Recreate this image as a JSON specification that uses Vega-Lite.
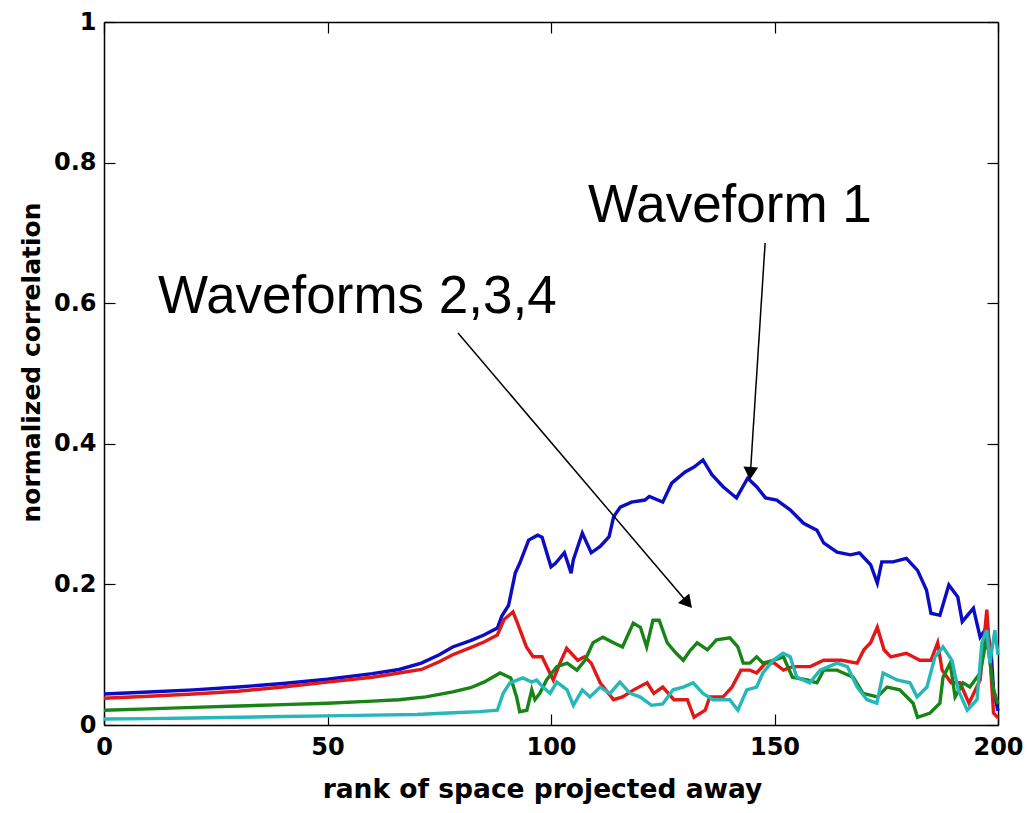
{
  "$schema": "https://vega.github.io/schema/vega-lite/v6.json",
  "width": 894,
  "height": 703,
  "autosize": "none",
  "padding": {"left": 104, "top": 22, "right": 31, "bottom": 88},
  "background": "white",
  "config": {
    "view": {"stroke": null},
    "axis": {
      "grid": false,
      "domainColor": "black",
      "domainWidth": 1.5,
      "tickColor": "black",
      "tickWidth": 1.2,
      "tickSize": -11,
      "labelFont": "DejaVu Sans",
      "labelFontWeight": "bold",
      "labelFontSize": 24,
      "labelColor": "black",
      "labelFlush": false,
      "labelOverlap": false,
      "labelBound": false,
      "titleFont": "DejaVu Sans",
      "titleFontWeight": "bold",
      "titleFontSize": 25,
      "titleColor": "black"
    }
  },
  "datasets": {
    "series": [
      {"x": 0, "y": 0.044, "wave": "1"}, {"x": 10, "y": 0.047, "wave": "1"}, {"x": 20, "y": 0.05, "wave": "1"}, {"x": 30, "y": 0.054, "wave": "1"}, {"x": 40, "y": 0.059, "wave": "1"}, {"x": 50, "y": 0.065, "wave": "1"}, {"x": 60, "y": 0.073, "wave": "1"}, {"x": 66, "y": 0.079, "wave": "1"}, {"x": 71, "y": 0.088, "wave": "1"}, {"x": 75, "y": 0.1, "wave": "1"}, {"x": 78, "y": 0.111, "wave": "1"}, {"x": 82, "y": 0.12, "wave": "1"}, {"x": 85, "y": 0.128, "wave": "1"}, {"x": 88, "y": 0.138, "wave": "1"}, {"x": 89, "y": 0.155, "wave": "1"}, {"x": 90.5, "y": 0.17, "wave": "1"}, {"x": 92, "y": 0.216, "wave": "1"}, {"x": 93, "y": 0.23, "wave": "1"}, {"x": 95, "y": 0.263, "wave": "1"}, {"x": 97, "y": 0.27, "wave": "1"}, {"x": 98, "y": 0.267, "wave": "1"}, {"x": 100, "y": 0.225, "wave": "1"}, {"x": 101, "y": 0.23, "wave": "1"}, {"x": 103, "y": 0.245, "wave": "1"}, {"x": 104.5, "y": 0.216, "wave": "1"}, {"x": 105, "y": 0.235, "wave": "1"}, {"x": 107, "y": 0.273, "wave": "1"}, {"x": 109, "y": 0.245, "wave": "1"}, {"x": 111, "y": 0.254, "wave": "1"}, {"x": 113, "y": 0.268, "wave": "1"}, {"x": 114, "y": 0.296, "wave": "1"}, {"x": 115.5, "y": 0.31, "wave": "1"}, {"x": 118, "y": 0.317, "wave": "1"}, {"x": 121, "y": 0.32, "wave": "1"}, {"x": 122, "y": 0.325, "wave": "1"}, {"x": 125, "y": 0.317, "wave": "1"}, {"x": 127, "y": 0.344, "wave": "1"}, {"x": 130, "y": 0.36, "wave": "1"}, {"x": 132, "y": 0.367, "wave": "1"}, {"x": 134, "y": 0.377, "wave": "1"}, {"x": 136, "y": 0.356, "wave": "1"}, {"x": 138.5, "y": 0.339, "wave": "1"}, {"x": 141.5, "y": 0.323, "wave": "1"}, {"x": 144, "y": 0.351, "wave": "1"}, {"x": 146, "y": 0.339, "wave": "1"}, {"x": 148, "y": 0.323, "wave": "1"}, {"x": 150.5, "y": 0.32, "wave": "1"}, {"x": 153.5, "y": 0.306, "wave": "1"}, {"x": 156.5, "y": 0.287, "wave": "1"}, {"x": 159.5, "y": 0.277, "wave": "1"}, {"x": 161, "y": 0.259, "wave": "1"}, {"x": 164, "y": 0.246, "wave": "1"}, {"x": 167, "y": 0.242, "wave": "1"}, {"x": 169, "y": 0.245, "wave": "1"}, {"x": 171.5, "y": 0.228, "wave": "1"}, {"x": 173, "y": 0.202, "wave": "1"}, {"x": 174, "y": 0.232, "wave": "1"}, {"x": 176.5, "y": 0.232, "wave": "1"}, {"x": 179.5, "y": 0.237, "wave": "1"}, {"x": 182, "y": 0.22, "wave": "1"}, {"x": 184, "y": 0.192, "wave": "1"}, {"x": 185, "y": 0.159, "wave": "1"}, {"x": 187, "y": 0.156, "wave": "1"}, {"x": 189, "y": 0.199, "wave": "1"}, {"x": 191, "y": 0.182, "wave": "1"}, {"x": 192, "y": 0.147, "wave": "1"}, {"x": 194.5, "y": 0.166, "wave": "1"}, {"x": 196, "y": 0.125, "wave": "1"}, {"x": 197.5, "y": 0.139, "wave": "1"}, {"x": 198.5, "y": 0.1, "wave": "1"}, {"x": 199, "y": 0.05, "wave": "1"}, {"x": 200, "y": 0.02, "wave": "1"},

      {"x": 0, "y": 0.038, "wave": "2"}, {"x": 10, "y": 0.041, "wave": "2"}, {"x": 20, "y": 0.044, "wave": "2"}, {"x": 30, "y": 0.048, "wave": "2"}, {"x": 40, "y": 0.054, "wave": "2"}, {"x": 50, "y": 0.061, "wave": "2"}, {"x": 60, "y": 0.068, "wave": "2"}, {"x": 66, "y": 0.074, "wave": "2"}, {"x": 71, "y": 0.079, "wave": "2"}, {"x": 75, "y": 0.09, "wave": "2"}, {"x": 78, "y": 0.1, "wave": "2"}, {"x": 82, "y": 0.11, "wave": "2"}, {"x": 85, "y": 0.118, "wave": "2"}, {"x": 88, "y": 0.128, "wave": "2"}, {"x": 89.5, "y": 0.15, "wave": "2"}, {"x": 91.5, "y": 0.161, "wave": "2"}, {"x": 92.5, "y": 0.145, "wave": "2"}, {"x": 94.5, "y": 0.111, "wave": "2"}, {"x": 96, "y": 0.097, "wave": "2"}, {"x": 98, "y": 0.097, "wave": "2"}, {"x": 100.5, "y": 0.064, "wave": "2"}, {"x": 102, "y": 0.088, "wave": "2"}, {"x": 103.5, "y": 0.109, "wave": "2"}, {"x": 106, "y": 0.092, "wave": "2"}, {"x": 107.5, "y": 0.097, "wave": "2"}, {"x": 109, "y": 0.088, "wave": "2"}, {"x": 111, "y": 0.06, "wave": "2"}, {"x": 114, "y": 0.036, "wave": "2"}, {"x": 116, "y": 0.04, "wave": "2"}, {"x": 118.5, "y": 0.05, "wave": "2"}, {"x": 121.5, "y": 0.06, "wave": "2"}, {"x": 123, "y": 0.045, "wave": "2"}, {"x": 125, "y": 0.054, "wave": "2"}, {"x": 127.5, "y": 0.036, "wave": "2"}, {"x": 130.5, "y": 0.036, "wave": "2"}, {"x": 132, "y": 0.011, "wave": "2"}, {"x": 134.5, "y": 0.021, "wave": "2"}, {"x": 135.5, "y": 0.04, "wave": "2"}, {"x": 138.5, "y": 0.04, "wave": "2"}, {"x": 140.5, "y": 0.054, "wave": "2"}, {"x": 142.5, "y": 0.078, "wave": "2"}, {"x": 144.5, "y": 0.078, "wave": "2"}, {"x": 146, "y": 0.074, "wave": "2"}, {"x": 148, "y": 0.088, "wave": "2"}, {"x": 150, "y": 0.088, "wave": "2"}, {"x": 152, "y": 0.078, "wave": "2"}, {"x": 154, "y": 0.083, "wave": "2"}, {"x": 158, "y": 0.083, "wave": "2"}, {"x": 161, "y": 0.092, "wave": "2"}, {"x": 165, "y": 0.092, "wave": "2"}, {"x": 168.5, "y": 0.088, "wave": "2"}, {"x": 170, "y": 0.107, "wave": "2"}, {"x": 171.5, "y": 0.117, "wave": "2"}, {"x": 173, "y": 0.139, "wave": "2"}, {"x": 174.5, "y": 0.107, "wave": "2"}, {"x": 176, "y": 0.097, "wave": "2"}, {"x": 179.5, "y": 0.102, "wave": "2"}, {"x": 182.5, "y": 0.092, "wave": "2"}, {"x": 185, "y": 0.092, "wave": "2"}, {"x": 186.5, "y": 0.117, "wave": "2"}, {"x": 187.5, "y": 0.078, "wave": "2"}, {"x": 189.5, "y": 0.06, "wave": "2"}, {"x": 191.5, "y": 0.06, "wave": "2"}, {"x": 193.5, "y": 0.031, "wave": "2"}, {"x": 196, "y": 0.064, "wave": "2"}, {"x": 197.5, "y": 0.164, "wave": "2"}, {"x": 198.3, "y": 0.088, "wave": "2"}, {"x": 199, "y": 0.017, "wave": "2"}, {"x": 200, "y": 0.01, "wave": "2"},

      {"x": 0, "y": 0.021, "wave": "3"}, {"x": 10, "y": 0.023, "wave": "3"}, {"x": 20, "y": 0.025, "wave": "3"}, {"x": 30, "y": 0.027, "wave": "3"}, {"x": 40, "y": 0.029, "wave": "3"}, {"x": 50, "y": 0.031, "wave": "3"}, {"x": 60, "y": 0.034, "wave": "3"}, {"x": 66, "y": 0.036, "wave": "3"}, {"x": 72, "y": 0.04, "wave": "3"}, {"x": 78, "y": 0.047, "wave": "3"}, {"x": 82, "y": 0.053, "wave": "3"}, {"x": 85, "y": 0.061, "wave": "3"}, {"x": 88.6, "y": 0.074, "wave": "3"}, {"x": 91, "y": 0.067, "wave": "3"}, {"x": 92.3, "y": 0.04, "wave": "3"}, {"x": 93, "y": 0.019, "wave": "3"}, {"x": 94.6, "y": 0.021, "wave": "3"}, {"x": 95.7, "y": 0.05, "wave": "3"}, {"x": 96.4, "y": 0.036, "wave": "3"}, {"x": 97.5, "y": 0.045, "wave": "3"}, {"x": 99, "y": 0.064, "wave": "3"}, {"x": 101.3, "y": 0.083, "wave": "3"}, {"x": 103.6, "y": 0.088, "wave": "3"}, {"x": 105.8, "y": 0.078, "wave": "3"}, {"x": 107.6, "y": 0.092, "wave": "3"}, {"x": 109.4, "y": 0.117, "wave": "3"}, {"x": 111.6, "y": 0.125, "wave": "3"}, {"x": 114, "y": 0.117, "wave": "3"}, {"x": 116, "y": 0.111, "wave": "3"}, {"x": 118.4, "y": 0.145, "wave": "3"}, {"x": 120, "y": 0.139, "wave": "3"}, {"x": 121.4, "y": 0.111, "wave": "3"}, {"x": 122.8, "y": 0.149, "wave": "3"}, {"x": 124.2, "y": 0.149, "wave": "3"}, {"x": 126, "y": 0.117, "wave": "3"}, {"x": 128, "y": 0.102, "wave": "3"}, {"x": 129.6, "y": 0.092, "wave": "3"}, {"x": 131, "y": 0.105, "wave": "3"}, {"x": 132.7, "y": 0.117, "wave": "3"}, {"x": 135, "y": 0.107, "wave": "3"}, {"x": 137, "y": 0.121, "wave": "3"}, {"x": 140, "y": 0.124, "wave": "3"}, {"x": 141.8, "y": 0.111, "wave": "3"}, {"x": 143, "y": 0.088, "wave": "3"}, {"x": 144.5, "y": 0.088, "wave": "3"}, {"x": 146, "y": 0.097, "wave": "3"}, {"x": 147.4, "y": 0.088, "wave": "3"}, {"x": 149.7, "y": 0.092, "wave": "3"}, {"x": 152, "y": 0.097, "wave": "3"}, {"x": 154, "y": 0.068, "wave": "3"}, {"x": 157.3, "y": 0.064, "wave": "3"}, {"x": 159.5, "y": 0.06, "wave": "3"}, {"x": 161, "y": 0.078, "wave": "3"}, {"x": 164, "y": 0.078, "wave": "3"}, {"x": 165.4, "y": 0.074, "wave": "3"}, {"x": 167.6, "y": 0.068, "wave": "3"}, {"x": 169.8, "y": 0.045, "wave": "3"}, {"x": 173, "y": 0.04, "wave": "3"}, {"x": 175.2, "y": 0.054, "wave": "3"}, {"x": 178, "y": 0.05, "wave": "3"}, {"x": 181, "y": 0.031, "wave": "3"}, {"x": 182, "y": 0.011, "wave": "3"}, {"x": 184.8, "y": 0.017, "wave": "3"}, {"x": 187, "y": 0.031, "wave": "3"}, {"x": 187.7, "y": 0.068, "wave": "3"}, {"x": 189.3, "y": 0.088, "wave": "3"}, {"x": 190.4, "y": 0.04, "wave": "3"}, {"x": 192.2, "y": 0.06, "wave": "3"}, {"x": 193.7, "y": 0.054, "wave": "3"}, {"x": 196, "y": 0.074, "wave": "3"}, {"x": 197.5, "y": 0.125, "wave": "3"}, {"x": 199, "y": 0.05, "wave": "3"}, {"x": 200, "y": 0.03, "wave": "3"},

      {"x": 0, "y": 0.0085, "wave": "4"}, {"x": 10, "y": 0.009, "wave": "4"}, {"x": 20, "y": 0.01, "wave": "4"}, {"x": 30, "y": 0.011, "wave": "4"}, {"x": 40, "y": 0.012, "wave": "4"}, {"x": 50, "y": 0.013, "wave": "4"}, {"x": 60, "y": 0.014, "wave": "4"}, {"x": 70, "y": 0.015, "wave": "4"}, {"x": 77, "y": 0.017, "wave": "4"}, {"x": 84, "y": 0.019, "wave": "4"}, {"x": 88, "y": 0.021, "wave": "4"}, {"x": 89.3, "y": 0.045, "wave": "4"}, {"x": 90.8, "y": 0.06, "wave": "4"}, {"x": 93.7, "y": 0.067, "wave": "4"}, {"x": 95.7, "y": 0.061, "wave": "4"}, {"x": 96.8, "y": 0.064, "wave": "4"}, {"x": 98.2, "y": 0.054, "wave": "4"}, {"x": 99.8, "y": 0.045, "wave": "4"}, {"x": 101.3, "y": 0.061, "wave": "4"}, {"x": 103.6, "y": 0.05, "wave": "4"}, {"x": 105, "y": 0.028, "wave": "4"}, {"x": 107, "y": 0.05, "wave": "4"}, {"x": 108.7, "y": 0.04, "wave": "4"}, {"x": 111, "y": 0.054, "wave": "4"}, {"x": 113.2, "y": 0.045, "wave": "4"}, {"x": 115.4, "y": 0.061, "wave": "4"}, {"x": 117.7, "y": 0.045, "wave": "4"}, {"x": 119.9, "y": 0.04, "wave": "4"}, {"x": 122.5, "y": 0.028, "wave": "4"}, {"x": 125, "y": 0.03, "wave": "4"}, {"x": 127.3, "y": 0.05, "wave": "4"}, {"x": 129.6, "y": 0.054, "wave": "4"}, {"x": 131.8, "y": 0.06, "wave": "4"}, {"x": 134, "y": 0.045, "wave": "4"}, {"x": 136.2, "y": 0.036, "wave": "4"}, {"x": 140, "y": 0.036, "wave": "4"}, {"x": 141.8, "y": 0.021, "wave": "4"}, {"x": 143.8, "y": 0.05, "wave": "4"}, {"x": 146, "y": 0.054, "wave": "4"}, {"x": 147.4, "y": 0.074, "wave": "4"}, {"x": 149.7, "y": 0.092, "wave": "4"}, {"x": 151.9, "y": 0.102, "wave": "4"}, {"x": 153.5, "y": 0.097, "wave": "4"}, {"x": 155, "y": 0.068, "wave": "4"}, {"x": 157.9, "y": 0.06, "wave": "4"}, {"x": 160.2, "y": 0.078, "wave": "4"}, {"x": 164, "y": 0.088, "wave": "4"}, {"x": 166.3, "y": 0.083, "wave": "4"}, {"x": 168.5, "y": 0.054, "wave": "4"}, {"x": 170.7, "y": 0.036, "wave": "4"}, {"x": 172.9, "y": 0.031, "wave": "4"}, {"x": 174.3, "y": 0.074, "wave": "4"}, {"x": 177.4, "y": 0.064, "wave": "4"}, {"x": 180.3, "y": 0.06, "wave": "4"}, {"x": 181.9, "y": 0.04, "wave": "4"}, {"x": 184.1, "y": 0.054, "wave": "4"}, {"x": 185.9, "y": 0.097, "wave": "4"}, {"x": 187.7, "y": 0.111, "wave": "4"}, {"x": 189.7, "y": 0.092, "wave": "4"}, {"x": 191.1, "y": 0.05, "wave": "4"}, {"x": 193.1, "y": 0.021, "wave": "4"}, {"x": 195.3, "y": 0.036, "wave": "4"}, {"x": 196.4, "y": 0.117, "wave": "4"}, {"x": 197.5, "y": 0.135, "wave": "4"}, {"x": 198.2, "y": 0.088, "wave": "4"}, {"x": 199.3, "y": 0.135, "wave": "4"}, {"x": 200, "y": 0.1, "wave": "4"}
    ],
    "arrows": [
      {"id": "a1", "x": 147.9, "y": 0.6856, "x2": 144.6, "y2": 0.3578},
      {"id": "a2", "x": 79.2, "y": 0.5576, "x2": 130.6, "y2": 0.1734}
    ],
    "notes": [
      {"x": 108.3, "y": 0.7155, "text": "Waveform 1"},
      {"x": 12.1, "y": 0.586, "text": "Waveforms 2,3,4"}
    ]
  },
  "layer": [
    {
      "layer": [
        {
          "data": {"name": "series"},
          "mark": {"type": "line", "strokeWidth": 3.4, "interpolate": "linear"},
          "encoding": {
            "x": {"field": "x", "type": "quantitative", "title": "rank of space projected away",
                  "scale": {"domain": [0, 200], "nice": false, "zero": false},
                  "axis": {"orient": "bottom", "values": [0, 50, 100, 150, 200], "labelPadding": 21, "titlePadding": 17, "titleFontSize": 26.5, "titleX": 438}},
            "y": {"field": "y", "type": "quantitative", "title": "normalized correlation",
                  "scale": {"domain": [0, 1], "nice": false},
                  "axis": {"orient": "left", "values": [0, 0.2, 0.4, 0.6, 0.8, 1], "labelExpr": "'' + datum.value", "labelPadding": 19, "titlePadding": 9, "titleY": 340}},
            "color": {"field": "wave", "type": "nominal", "legend": null,
                      "scale": {"domain": ["1", "2", "3", "4"], "range": ["#0c0cc4", "#e01818", "#188418", "#26b8b8"]}}
          }
        },
        {
          "data": {"name": "arrows"},
          "mark": {"type": "rule", "color": "black", "strokeWidth": 1.5},
          "encoding": {
            "x": {"field": "x", "type": "quantitative", "title": "rank of space projected away"},
            "y": {"field": "y", "type": "quantitative", "title": "normalized correlation"},
            "x2": {"field": "x2"},
            "y2": {"field": "y2"}
          }
        },
        {
          "data": {"name": "arrows"},
          "transform": [{"filter": "datum.id == 'a1'"}],
          "mark": {"type": "point", "shape": "triangle-up", "filled": true, "color": "black", "opacity": 1, "size": 220, "angle": 184},
          "encoding": {
            "x": {"field": "x2", "type": "quantitative", "title": "rank of space projected away"},
            "y": {"field": "y2", "type": "quantitative", "title": "normalized correlation"}
          }
        },
        {
          "data": {"name": "arrows"},
          "transform": [{"filter": "datum.id == 'a2'"}],
          "mark": {"type": "point", "shape": "triangle-up", "filled": true, "color": "black", "opacity": 1, "size": 220, "angle": 139.5},
          "encoding": {
            "x": {"field": "x2", "type": "quantitative", "title": "rank of space projected away"},
            "y": {"field": "y2", "type": "quantitative", "title": "normalized correlation"}
          }
        },
        {
          "data": {"name": "notes"},
          "mark": {"type": "text", "align": "left", "baseline": "alphabetic", "font": "Liberation Sans", "fontSize": 53, "color": "black"},
          "encoding": {
            "x": {"field": "x", "type": "quantitative", "title": "rank of space projected away"},
            "y": {"field": "y", "type": "quantitative", "title": "normalized correlation"},
            "text": {"field": "text"}
          }
        }
      ]
    },
    {
      "data": {"name": "series"},
      "mark": {"type": "point", "opacity": 0},
      "encoding": {
        "x": {"field": "x", "type": "quantitative", "axis": {"orient": "top", "values": [0, 50, 100, 150, 200], "labels": false, "title": null}},
        "y": {"field": "y", "type": "quantitative", "axis": {"orient": "right", "values": [0, 0.2, 0.4, 0.6, 0.8, 1], "labels": false, "title": null}}
      }
    }
  ],
  "resolve": {"axis": {"x": "independent", "y": "independent"}}
}
